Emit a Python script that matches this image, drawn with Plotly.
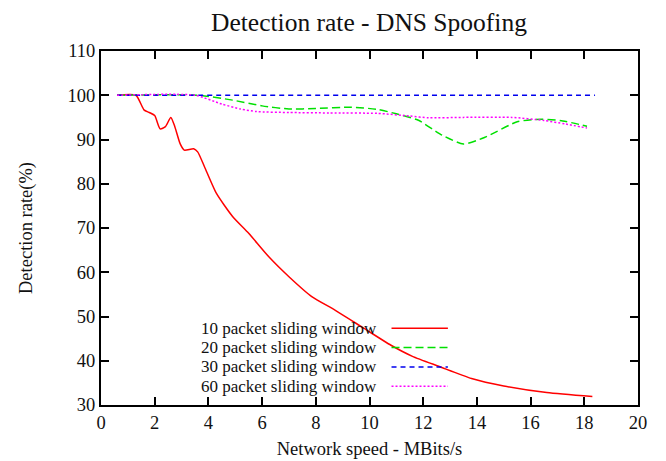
import plotly.graph_objects as go

# ---- data ----
x_w10 = [0.6, 1.3, 1.6, 1.8, 2.0, 2.2, 2.4, 2.6, 2.75, 2.95, 3.1, 3.45, 3.6, 3.85, 4.3,
         4.9, 5.5, 6.25, 7.0, 7.85, 8.7, 9.8, 10.8, 11.6, 12.6, 13.8, 15.0, 16.6, 18.3]
y_w10 = [100, 100, 96.7, 96.1, 95.4, 92.4, 92.9, 95.0, 92.9, 89.0, 87.6, 87.9, 87.2, 83.9, 77.8,
         72.6, 68.8, 63.5, 59.0, 54.5, 51.5, 47.3, 43.5, 41.0, 38.7, 36.0, 34.3, 32.8, 31.9]

x_w20 = [0.6, 3.6, 4.9, 6.0, 7.0, 8.0, 9.3, 10.3, 11.0, 11.8, 12.7, 13.5, 14.3, 15.5, 16.4, 17.2, 18.1]
y_w20 = [100, 100, 98.9, 97.6, 96.9, 97.0, 97.3, 96.8, 95.8, 94.4, 91.0, 89.0, 90.5, 94.0, 94.6, 94.2, 93.0]

x_w30 = [0.6, 9.5, 18.4]
y_w30 = [100, 100, 100]

x_w60 = [0.6, 3.5, 4.5, 5.2, 5.8, 7.0, 8.5, 10.3, 11.5, 12.2, 13.5, 15.3, 16.5, 17.3, 18.1]
y_w60 = [100, 100, 98.0, 96.9, 96.3, 96.1, 96.0, 95.9, 95.3, 94.9, 95.0, 95.0, 94.3, 93.5, 92.6]

series_names = ["10 packet sliding window", "20 packet sliding window",
                "30 packet sliding window", "60 packet sliding window"]
x_ticks = [0, 2, 4, 6, 8, 10, 12, 14, 16, 18, 20]
y_ticks = [30, 40, 50, 60, 70, 80, 90, 100, 110]

# ---- styles ----
styles = [
    dict(color="#ff0000", dash="solid"),
    dict(color="#00e000", dash="8px,4px"),
    dict(color="#0000ee", dash="5px,4px"),
    dict(color="#ff00ff", dash="2px,2px"),
]
serif = "Liberation Serif, Times New Roman, serif"
txt = "#111111"

fig = go.Figure()
data = [(x_w10, y_w10), (x_w20, y_w20), (x_w30, y_w30), (x_w60, y_w60)]
for (xs, ys), name, st in zip(data, series_names, styles):
    fig.add_trace(go.Scatter(
        x=xs, y=ys, mode="lines", name=name, showlegend=False,
        line=dict(color=st["color"], dash=st["dash"], width=1.5,
                  shape="spline", smoothing=0.6),
    ))

# gnuplot-style key: text right-aligned, sample line to its right
row_y = [0.2167, 0.1621, 0.1076, 0.053]
for name, st, ry in zip(series_names, styles, row_y):
    fig.add_annotation(x=0.516, y=ry, xref="paper", yref="paper", text=name,
                       showarrow=False, xanchor="right", yanchor="middle",
                       borderpad=0,
                       font=dict(family=serif, size=17, color=txt))
    fig.add_shape(type="line", xref="paper", yref="paper",
                  x0=0.541, x1=0.646, y0=ry, y1=ry,
                  line=dict(color=st["color"], dash=st["dash"], width=1.5))

axis_common = dict(
    showline=True, linecolor="black", linewidth=2, mirror="ticks",
    ticks="inside", ticklen=8, tickwidth=2, tickcolor="black",
    showgrid=False, zeroline=False, automargin=False,
    tickfont=dict(family=serif, size=18.5, color=txt),
)

fig.update_layout(
    width=666, height=461,
    margin=dict(l=93, r=36, t=43, b=64),
    paper_bgcolor="white", plot_bgcolor="white",
    title=dict(text="Detection rate - DNS Spoofing", x=0.542, xanchor="center",
               y=0.988, yanchor="top",
               font=dict(family=serif, size=25.5, color=txt)),
    xaxis=dict(range=[0, 20], tickvals=x_ticks,
               title=dict(text="Network speed - MBits/s", standoff=10,
                          font=dict(family=serif, size=18.5, color=txt)),
               **axis_common),
    yaxis=dict(range=[30, 110], tickvals=y_ticks,
               title=dict(text="Detection rate(%)", standoff=30,
                          font=dict(family=serif, size=18.5, color=txt)),
               **axis_common),
)

fig.write_html("out.html")
